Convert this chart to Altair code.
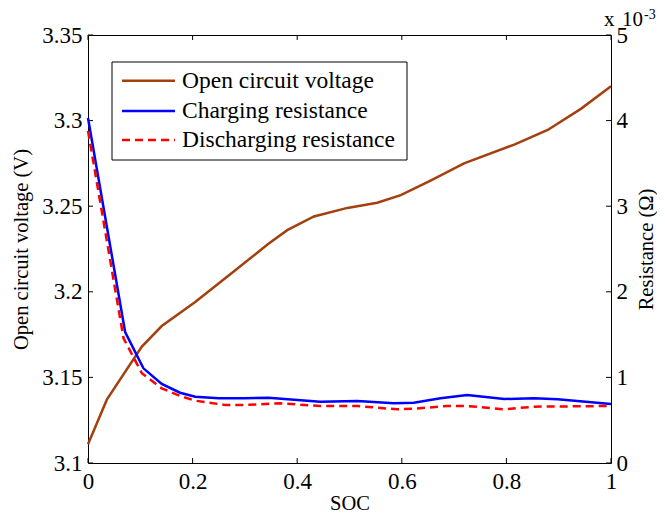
import altair as alt
import pandas as pd

# ---- data ----
soc_ocv = [0.0, 0.036, 0.103, 0.141, 0.205, 0.275, 0.345, 0.381, 0.432, 0.496,
           0.553, 0.598, 0.655, 0.719, 0.815, 0.879, 0.943, 1.0]
ocv = [3.111, 3.137, 3.168, 3.180, 3.194, 3.211, 3.228, 3.236, 3.244, 3.249,
       3.252, 3.2565, 3.265, 3.275, 3.286, 3.2945, 3.307, 3.320]

soc_chg = [0.0, 0.071, 0.106, 0.141, 0.176, 0.205, 0.25, 0.30, 0.345, 0.444,
           0.515, 0.585, 0.623, 0.674, 0.725, 0.796, 0.853, 0.898, 1.0]
r_chg = [4.03, 1.53, 1.106, 0.923, 0.821, 0.775, 0.756, 0.756, 0.763, 0.716,
         0.724, 0.697, 0.705, 0.756, 0.794, 0.748, 0.756, 0.744, 0.689]   # x 10^-3 Ohm

soc_dis = [0.0, 0.068, 0.103, 0.141, 0.176, 0.205, 0.262, 0.30, 0.368, 0.444,
           0.515, 0.591, 0.623, 0.687, 0.725, 0.796, 0.853, 1.0]
r_dis = [3.88, 1.457, 1.048, 0.872, 0.783, 0.728, 0.678, 0.678, 0.697, 0.666,
         0.666, 0.627, 0.634, 0.666, 0.666, 0.627, 0.658, 0.666]          # x 10^-3 Ohm

x_ticks = [0, 0.2, 0.4, 0.6, 0.8, 1.0]
v_ticks = [3.1, 3.15, 3.2, 3.25, 3.3, 3.35]
r_ticks = [0, 1, 2, 3, 4, 5]
legend_labels = ["Open circuit voltage", "Charging resistance", "Discharging resistance"]

# ---- styling ----
FONT = "Liberation Serif"
W, H = 523, 428
BROWN = "#A3400F"
BLUE = "#0000FF"
RED = "#FF0000"
LW = 2.5
TICK_FS = 23
TITLE_FS = 20.5
LEG_FS = 23.5

df_ocv = pd.DataFrame({"soc": soc_ocv, "v": ocv})
df_chg = pd.DataFrame({"soc": soc_chg, "r": r_chg})
df_dis = pd.DataFrame({"soc": soc_dis, "r": r_dis})
df_xt = pd.DataFrame({"t": x_ticks})
df_vt = pd.DataFrame({"t": v_ticks})
df_rt = pd.DataFrame({"t": r_ticks})
one = pd.DataFrame({"k": [0]})

xscale = alt.Scale(domain=[0, 1], nice=False, zero=False)
vscale = alt.Scale(domain=[3.1, 3.35], nice=False, zero=False)
rscale = alt.Scale(domain=[0, 5], nice=False, zero=False)

x_axis = alt.Axis(values=x_ticks, format="~g", title="SOC", ticks=False, tickSize=0,
                  domain=False, grid=False, labelPadding=7, labelFontSize=TICK_FS,
                  labelFlush=False, titleFontSize=TITLE_FS, titleX=W / 2, titleY=40,
                  titleBaseline="middle", titleAlign="center")
v_axis = alt.Axis(values=v_ticks, format="~g", title="Open circuit voltage (V)",
                  orient="left", ticks=False, tickSize=0, domain=False, grid=False,
                  labelPadding=6, labelFontSize=TICK_FS, labelFlush=False,
                  titleFontSize=TITLE_FS, titleAngle=270, titleX=-67, titleY=H / 2,
                  titleBaseline="middle", titleAlign="center")
r_axis = alt.Axis(values=r_ticks, format="~g", title="Resistance (Ω)",
                  orient="right", ticks=False, tickSize=0, domain=False, grid=False,
                  labelPadding=5, labelFontSize=TICK_FS, labelFlush=False,
                  titleFontSize=TITLE_FS, titleAngle=270, titleX=35, titleY=H / 2,
                  titleBaseline="middle", titleAlign="center")

X = lambda f: alt.X(f, type="quantitative", scale=xscale, axis=x_axis)

# ---- left (voltage) layer ----
ocv_line = alt.Chart(df_ocv).mark_line(color=BROWN, strokeWidth=LW).encode(
    x=X("soc"), y=alt.Y("v:Q", scale=vscale, axis=v_axis))
v_tick_marks = alt.Chart(df_vt).mark_rule(color="black", strokeWidth=1).encode(
    y=alt.Y("t:Q", scale=vscale, axis=v_axis), x=alt.value(0), x2=alt.value(5))
left = alt.layer(v_tick_marks, ocv_line)

# ---- right (resistance) layer ----
chg_line = alt.Chart(df_chg).mark_line(color=BLUE, strokeWidth=LW).encode(
    x=X("soc"), y=alt.Y("r:Q", scale=rscale, axis=r_axis))
dis_line = alt.Chart(df_dis).mark_line(color=RED, strokeWidth=LW, strokeDash=[8, 5]).encode(
    x=X("soc"), y=alt.Y("r:Q", scale=rscale, axis=r_axis))
r_tick_marks = alt.Chart(df_rt).mark_rule(color="black", strokeWidth=1).encode(
    y=alt.Y("t:Q", scale=rscale, axis=r_axis), x=alt.value(W), x2=alt.value(W - 5))
x_bottom_ticks = alt.Chart(df_xt).mark_rule(color="black", strokeWidth=1).encode(
    x=X("t"), y=alt.value(H), y2=alt.value(H - 5))
x_top_ticks = alt.Chart(df_xt).mark_rule(color="black", strokeWidth=1).encode(
    x=X("t"), y=alt.value(0), y2=alt.value(5))

# exponent label "x 10^-3"
exp_x = alt.Chart(one).mark_text(text="x", font=FONT, fontSize=21, align="left",
                                 baseline="alphabetic", color="black").encode(
    x=alt.value(516), y=alt.value(-9))
exp_10 = alt.Chart(one).mark_text(text="10", font=FONT, fontSize=21, align="left",
                                  baseline="alphabetic", color="black").encode(
    x=alt.value(534), y=alt.value(-9))
exp_m3 = alt.Chart(one).mark_text(text="-3", font=FONT, fontSize=14, align="left",
                                  baseline="alphabetic", color="black").encode(
    x=alt.value(556), y=alt.value(-16))

# legend (drawn by hand to match the boxed MATLAB legend)
leg_box = alt.Chart(one).mark_rect(fill="white", stroke="black", strokeWidth=1).encode(
    x=alt.value(24), x2=alt.value(319), y=alt.value(27), y2=alt.value(125))
row_y = [45.7, 76, 105]
leg_colors = [BROWN, BLUE, RED]
leg_layers = [leg_box]
for i, lab in enumerate(legend_labels):
    kw = dict(color=leg_colors[i], strokeWidth=LW)
    if i == 2:
        kw["strokeDash"] = [8, 5]
    leg_layers.append(alt.Chart(one).mark_rule(**kw).encode(
        x=alt.value(34), x2=alt.value(87), y=alt.value(row_y[i])))
    leg_layers.append(alt.Chart(pd.DataFrame({"label": [lab]})).mark_text(
        font=FONT, fontSize=LEG_FS, align="left", baseline="middle", color="black").encode(
        x=alt.value(94), y=alt.value(row_y[i]), text="label:N"))

right = alt.layer(r_tick_marks, x_bottom_ticks, x_top_ticks, chg_line, dis_line,
                  exp_x, exp_10, exp_m3, *leg_layers)

chart = alt.layer(left, right).resolve_scale(y="independent").properties(
    width=W, height=H,
    autosize=alt.AutoSizeParams(type="none"),
    padding={"left": 80, "top": 27, "right": 46, "bottom": 50},
).configure_view(stroke="black", strokeWidth=1).configure_axis(
    labelFont=FONT, titleFont=FONT, labelColor="black", titleColor="black",
    titleFontWeight="normal"
)

chart.save("out.html", embed_options={"renderer": "svg", "actions": False})
